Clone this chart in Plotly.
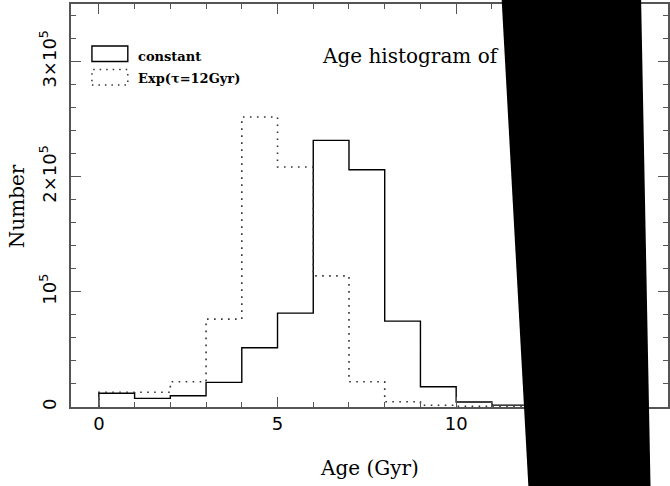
import plotly.graph_objects as go

# ---- data ----
bin_edges = list(range(0, 13))  # ages 0..12 Gyr, 1 Gyr bins
constant_counts = [11900, 7500, 9800, 21400, 51400, 81500, 231600, 206100, 74600, 17600, 4300, 1600]
exp_counts = [12700, 12800, 21900, 76300, 251800, 208400, 113900, 21900, 4600, 1500, 500, 200]

x_ticks = [0, 5, 10, 15]
x_tick_labels = ["0", "5", "10", "15"]
y_ticks = [0, 100000, 200000, 300000]
y_tick_labels = ["0", "10<sup>5</sup>", "2×10<sup>5</sup>", "3×10<sup>5</sup>"]

series_names = ["constant", "Exp(τ=12Gyr)"]
title_text = "Age histogram of"
x_title = "Age (Gyr)"
y_title = "Number"

# ---- layout geometry (pixels) ----
W, H = 670, 486
PL, PR, PT, PB = 71, 670, 4, 407
UNIT = 35.85  # px per Gyr


def px(x):
    return (x - PL) / (PR - PL)


def py(y):
    return (PB - y) / (PB - PT)


def step(counts):
    n = len(counts)
    xs = [bin_edges[0]] + bin_edges[:n] + [bin_edges[n]]
    ys = [0] + counts + [0]
    return xs, ys


fig = go.Figure()
xs, ys = step(constant_counts)
fig.add_trace(go.Scatter(x=xs, y=ys, mode="lines", line_shape="hv",
                         line=dict(color="black", width=1.4), name=series_names[0],
                         showlegend=False))
xs, ys = step(exp_counts)
fig.add_trace(go.Scatter(x=xs, y=ys, mode="lines", line_shape="hv",
                         line=dict(color="#333", width=1.6, dash="1.6px,5.4px"),
                         name=series_names[1], showlegend=False))

axis_color = "#555"
xmin = -0.78
xmax = xmin + (PR - PL) / UNIT
fig.update_xaxes(range=[xmin, xmax], showline=True, linecolor=axis_color, linewidth=1.6,
                 mirror="ticks", ticks="inside", ticklen=10, tickwidth=1.3, tickcolor=axis_color,
                 tickvals=x_ticks, ticktext=x_tick_labels, showgrid=False, zeroline=False,
                 tickfont=dict(family="DejaVu Sans", size=18, color="black"),
                 minor=dict(ticks="inside", ticklen=5, tickwidth=1.2, tickcolor=axis_color,
                            tickvals=list(range(0, 16)), showgrid=False))
fig.update_yaxes(range=[0, 350000], showline=True, linecolor=axis_color, linewidth=1.6,
                 mirror="ticks", ticks="inside", ticklen=10, tickwidth=1.3, tickcolor=axis_color,
                 tickvals=y_ticks, ticktext=y_tick_labels, tickangle=-90, showgrid=False,
                 zeroline=False, ticklabelstandoff=6,
                 tickfont=dict(family="DejaVu Sans", size=18, color="black"),
                 minor=dict(ticks="inside", ticklen=5, tickwidth=1.2, tickcolor=axis_color,
                            tickvals=list(range(0, 350001, 20000)), showgrid=False))

shapes = [
    dict(type="rect", xref="paper", yref="paper", x0=px(92), x1=px(128), y0=py(61.5), y1=py(46),
         line=dict(color="black", width=1.4)),
    dict(type="rect", xref="paper", yref="paper", x0=px(92), x1=px(128), y0=py(85), y1=py(69.5),
         line=dict(color="#333", width=1.5, dash="1.5px,5px")),
    # black occluding band present in the reference picture
    dict(type="path", xref="paper", yref="paper", layer="above",
         path="M {:.4f},{:.4f} L {:.4f},{:.4f} L {:.4f},{:.4f} L {:.4f},{:.4f} Z".format(
             px(503), py(-2), px(643), py(-2), px(652.5), py(488), px(530), py(488)),
         fillcolor="black", line=dict(color="black", width=0)),
]

legend_font = dict(family="DejaVu Serif", size=13, color="black", weight="bold")
annotations = [
    dict(text=series_names[0], x=px(136), y=py(56), xref="paper", yref="paper",
         xanchor="left", yanchor="middle", showarrow=False, font=legend_font),
    dict(text=series_names[1], x=px(136), y=py(79), xref="paper", yref="paper",
         xanchor="left", yanchor="middle", showarrow=False, font=legend_font),
    dict(text=title_text, x=px(321), y=py(56), xref="paper", yref="paper",
         xanchor="left", yanchor="middle", showarrow=False,
         font=dict(family="DejaVu Serif", size=20, color="black")),
    dict(text=x_title, x=px(370.5), y=py(468), xref="paper", yref="paper",
         xanchor="center", yanchor="middle", showarrow=False,
         font=dict(family="DejaVu Serif", size=20, color="black")),
    dict(text=y_title, x=px(17), y=py(206), xref="paper", yref="paper", textangle=-90,
         xanchor="center", yanchor="middle", showarrow=False,
         font=dict(family="DejaVu Serif", size=20, color="black")),
]

fig.update_layout(width=W, height=H, margin=dict(l=PL, r=W - PR, t=PT, b=H - PB),
                  paper_bgcolor="white", plot_bgcolor="white", showlegend=False,
                  shapes=shapes, annotations=annotations)

fig.write_html("out.html", config={"displayModeBar": False},
               post_script="document.body.style.margin='0';document.body.style.overflow='hidden';")
